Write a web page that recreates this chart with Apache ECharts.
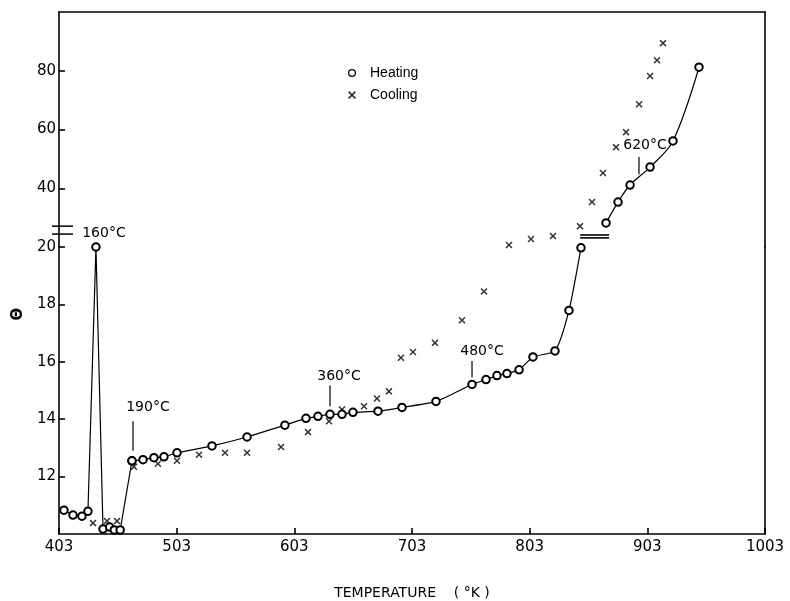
<!DOCTYPE html>
<html>
<head>
<meta charset="utf-8">
<script src="https://cdn.jsdelivr.net/npm/echarts@6.0.0/dist/echarts.min.js"></script>
<style>
html, body { margin: 0; padding: 0; background: #fff; }
#chart { width: 790px; height: 601px; }
</style>
</head>
<body>
<div id="chart"></div>
<script>
// tick labels
var xTicks = [403, 503, 603, 703, 803, 903, 1003];
var yTicksLow = [12, 14, 16, 18, 20];
var yTicksHigh = [40, 60, 80];

// heating, lower scale (10..20)
var heatingLowX = [407.2, 414.9, 422.5, 427.6, 434.4, 440.4, 446, 450, 455, 465, 474.4, 483.7, 492.2, 503.3, 533, 562.8, 595, 612.9, 623.1, 633.3, 643.5, 652.8, 674.1, 694.5, 723.4, 754, 765.9, 775.2, 783.7, 794, 805.8, 824.5, 836.4, 846.6];
var heatingLowY = [10.83, 10.66, 10.62, 10.79, 20.0, 10.17, 10.24, 10.14, 10.14, 12.55, 12.59, 12.66, 12.69, 12.83, 13.07, 13.38, 13.79, 14.03, 14.10, 14.17, 14.17, 14.24, 14.28, 14.41, 14.62, 15.21, 15.38, 15.52, 15.59, 15.72, 16.17, 16.38, 17.79, 19.97];
// heating, upper scale (20..100)
var heatingHighX = [867.9, 878.1, 888.3, 905.3, 924.8, 946.9];
var heatingHighY = [28.2, 35.3, 41.1, 47.2, 56.1, 81.2];

// cooling
var coolingLowX = [431.9, 443.8, 452.3, 466.7, 487.1, 503.3, 522, 544.1, 562.8, 591.7, 614.6, 632.5, 643.5, 662.2, 673.2, 683.4, 693.6, 703.8, 722.5, 745.5, 764.2, 785.4, 804.1, 822.8];
var coolingLowY = [10.38, 10.45, 10.45, 12.34, 12.45, 12.55, 12.76, 12.83, 12.83, 13.03, 13.55, 13.93, 14.34, 14.45, 14.72, 14.97, 16.14, 16.34, 16.66, 17.45, 18.45, 20.07, 20.28, 20.38];
var coolingHighX = [845.8, 856, 865.3, 876.4, 884.9, 896, 905.3, 911.2, 916.3];
var coolingHighY = [27.1, 35.3, 45.2, 54.0, 59.1, 68.6, 78.2, 83.6, 89.4];

// annotations: label, text position, leader line (x, y from, y to)
var noteLowLabels = ['190°C', '360°C', '480°C'];
var noteLowX = [478.6, 641, 762.5];
var noteLowY = [14.41, 15.48, 16.38];
var leadLowX = [465.9, 633.3, 754];
var leadLowY0 = [12.90, 14.45, 15.45];
var leadLowY1 = [13.93, 15.17, 16.03];

var noteHighLabels = ['160°C', '620°C'];
var noteHighX = [441.2, 901];
var noteHighY = [24.8, 54.7];
var leadHighX = [895.9];
var leadHighY0 = [44.8];
var leadHighY1 = [50.6];

var crossPath = 'path://M0,1.5L1.5,0L5,3.5L8.5,0L10,1.5L6.5,5L10,8.5L8.5,10L5,6.5L1.5,10L0,8.5L3.5,5Z';
var ringPath = 'path://M5,0A5,5,0,1,1,4.99,0ZM5,1.6A3.4,3.4,0,1,0,5.01,1.6Z';

function zip(xs, ys) {
    var out = [];
    for (var i = 0; i < xs.length; i++) {
        out.push([xs[i], ys[i]]);
    }
    return out;
}

var heatLow = zip(heatingLowX, heatingLowY);
var spikePart = heatLow.slice(0, 10);
var mainPart = heatLow.slice(9);

var axisLineStyle = { color: '#000', width: 1.6 };
var labelFont = {
    color: '#000', fontSize: 15, fontFamily: 'DejaVu Sans',
    formatter: function (v) { return String(v); }
};

var series = [
    {
        name: 'Heating', type: 'line', xAxisIndex: 0, yAxisIndex: 0,
        data: spikePart, symbol: 'emptyCircle', symbolSize: 7.5,
        lineStyle: { color: '#000', width: 1.2 },
        itemStyle: { color: '#000', borderWidth: 1.3 }
    },
    {
        name: 'Heating', type: 'line', xAxisIndex: 0, yAxisIndex: 0,
        data: mainPart, symbol: 'emptyCircle', symbolSize: 7.5, smooth: 0.2,
        lineStyle: { color: '#000', width: 1.2 },
        itemStyle: { color: '#000', borderWidth: 1.3 }
    },
    {
        name: 'Heating', type: 'line', xAxisIndex: 1, yAxisIndex: 2,
        data: zip(heatingHighX, heatingHighY), symbol: 'emptyCircle', symbolSize: 7.5, smooth: 0.35,
        lineStyle: { color: '#000', width: 1.2 },
        itemStyle: { color: '#000', borderWidth: 1.3 }
    },
    {
        name: 'Cooling', type: 'scatter', xAxisIndex: 0, yAxisIndex: 0, clip: false,
        data: zip(coolingLowX, coolingLowY), symbol: crossPath, symbolSize: 7,
        itemStyle: { color: '#000' }
    },
    {
        name: 'Cooling', type: 'scatter', xAxisIndex: 1, yAxisIndex: 2,
        data: zip(coolingHighX, coolingHighY), symbol: crossPath, symbolSize: 7,
        itemStyle: { color: '#000' }
    }
];

// leader lines
for (var i = 0; i < leadLowX.length; i++) {
    series.push({
        type: 'line', xAxisIndex: 0, yAxisIndex: 0, symbol: 'none', silent: true,
        data: [[leadLowX[i], leadLowY0[i]], [leadLowX[i], leadLowY1[i]]],
        lineStyle: { color: '#000', width: 1.2 }
    });
}
for (var i = 0; i < leadHighX.length; i++) {
    series.push({
        type: 'line', xAxisIndex: 1, yAxisIndex: 2, symbol: 'none', silent: true,
        data: [[leadHighX[i], leadHighY0[i]], [leadHighX[i], leadHighY1[i]]],
        lineStyle: { color: '#000', width: 1.2 }
    });
}

function noteData(labels, xs, ys) {
    var out = [];
    for (var i = 0; i < labels.length; i++) {
        out.push({ name: labels[i], value: [xs[i], ys[i]] });
    }
    return out;
}
var noteLabel = {
    show: true, position: 'inside', formatter: '{b}',
    color: '#000', fontSize: 14, fontFamily: 'DejaVu Sans', textBorderWidth: 0
};
series.push({
    type: 'scatter', xAxisIndex: 0, yAxisIndex: 0, symbolSize: 0.5, silent: true, clip: false,
    itemStyle: { color: '#fff', opacity: 1 }, label: noteLabel, z: 5,
    data: noteData(noteLowLabels, noteLowX, noteLowY)
});
series.push({
    type: 'scatter', xAxisIndex: 1, yAxisIndex: 2, symbolSize: 0.5, silent: true, clip: false,
    itemStyle: { color: '#fff', opacity: 1 }, label: noteLabel, z: 5,
    data: noteData(noteHighLabels, noteHighX, noteHighY)
});

var chart = echarts.init(document.getElementById('chart'));
chart.setOption({
    animation: false,
    backgroundColor: '#fff',
    legend: {
        orient: 'vertical', left: 343, top: 61,
        itemWidth: 26, itemHeight: 8, itemGap: 8,
        textStyle: { color: '#000', fontSize: 14, fontFamily: 'Liberation Sans' },
        data: [
            { name: 'Heating', icon: ringPath, itemStyle: { color: '#000', borderWidth: 0 } },
            { name: 'Cooling', icon: crossPath, itemStyle: { color: '#000', borderWidth: 0 } }
        ]
    },
    grid: [
        { left: 59, right: 25, top: 247, bottom: 64 },
        { left: 59, right: 25, top: 12, height: 235 }
    ],
    xAxis: [
        {
            gridIndex: 0, type: 'value', min: 403, max: 1003, position: 'bottom',
            axisLine: { lineStyle: axisLineStyle },
            axisTick: { inside: true, length: 6, customValues: xTicks, lineStyle: axisLineStyle },
            axisLabel: Object.assign({ margin: 6, customValues: xTicks }, labelFont),
            splitLine: { show: false },
            name: 'TEMPERATURE    ( °K )', nameLocation: 'middle', nameGap: 52,
            nameTextStyle: { color: '#000', fontSize: 14, fontFamily: 'DejaVu Sans' }
        },
        {
            gridIndex: 1, type: 'value', min: 403, max: 1003, position: 'top',
            axisLine: { lineStyle: axisLineStyle },
            axisTick: { show: false }, axisLabel: { show: false }, splitLine: { show: false }
        }
    ],
    yAxis: [
        {
            gridIndex: 0, type: 'value', min: 10, max: 20, position: 'left',
            axisLine: { lineStyle: axisLineStyle },
            axisTick: { inside: true, length: 6, customValues: yTicksLow, lineStyle: axisLineStyle },
            axisLabel: Object.assign({ margin: 3, customValues: yTicksLow }, labelFont),
            splitLine: { show: false }
        },
        {
            gridIndex: 0, type: 'value', min: 10, max: 20, position: 'right',
            axisLine: { show: true, lineStyle: axisLineStyle },
            axisTick: { show: false }, axisLabel: { show: false }, splitLine: { show: false }
        },
        {
            gridIndex: 1, type: 'value', min: 20, max: 100, position: 'left',
            axisLine: { lineStyle: axisLineStyle },
            axisTick: { inside: true, length: 6, customValues: yTicksHigh, lineStyle: axisLineStyle },
            axisLabel: Object.assign({ margin: 3, customValues: yTicksHigh }, labelFont),
            splitLine: { show: false }
        },
        {
            gridIndex: 1, type: 'value', min: 20, max: 100, position: 'right',
            axisLine: { show: true, lineStyle: axisLineStyle },
            axisTick: { show: false }, axisLabel: { show: false }, splitLine: { show: false }
        }
    ],
    series: series
});

// axis-break marks, placed through the upper grid's scale
function px(x, y) {
    return chart.convertToPixel({ gridIndex: 1 }, [x, y]);
}
var breaks = [];
[27.1, 24.4].forEach(function (v) {
    var p = px(403, v);
    breaks.push({ type: 'line', shape: { x1: p[0] - 7, y1: p[1], x2: p[0] + 14, y2: p[1] }, style: { stroke: '#000', lineWidth: 1.5 } });
});
[24.1, 23.1].forEach(function (v) {
    var a = px(845.9, v), b = px(870.5, v);
    breaks.push({ type: 'line', shape: { x1: a[0], y1: a[1], x2: b[0], y2: b[1] }, style: { stroke: '#000', lineWidth: 1.6 } });
});
breaks.push({
    type: 'text', x: 18, y: 314, rotation: Math.PI / 2,
    style: { text: 'Θ', fill: '#000', font: 'bold 15px DejaVu Sans', textAlign: 'center', textVerticalAlign: 'middle' }
});
chart.setOption({ graphic: breaks });
</script>
</body>
</html>
